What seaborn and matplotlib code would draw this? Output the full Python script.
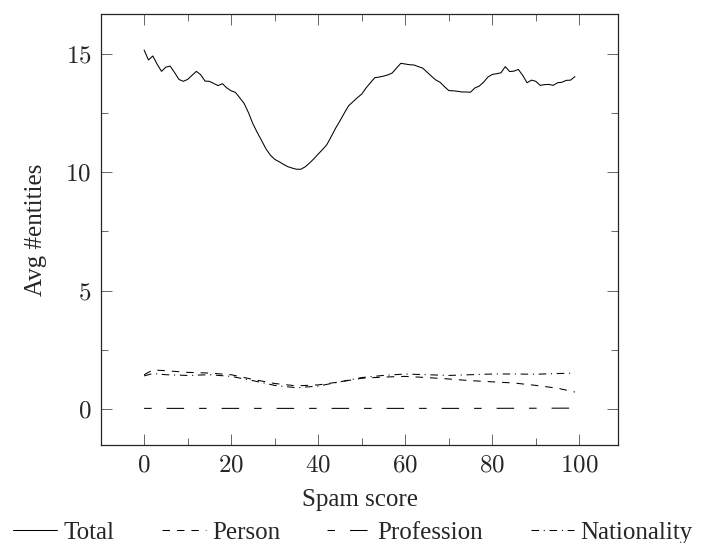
import numpy as np
import pandas as pd
import seaborn as sns
import matplotlib.pyplot as plt
from matplotlib.ticker import MultipleLocator, FuncFormatter

# values
spam_score = list(range(100))
total = [15.15, 14.73, 14.90, 14.55, 14.25, 14.43, 14.47, 14.20, 13.91, 13.83,
         13.91, 14.08, 14.25, 14.11, 13.84, 13.83, 13.74, 13.65, 13.73, 13.55,
         13.43, 13.36, 13.13, 12.89, 12.50, 12.04, 11.67, 11.33, 10.98, 10.72,
         10.54, 10.44, 10.33, 10.23, 10.17, 10.12, 10.12, 10.22, 10.38, 10.56,
         10.76, 10.95, 11.16, 11.50, 11.85, 12.16, 12.49, 12.80, 12.97, 13.14,
         13.29, 13.55, 13.77, 13.98, 14.01, 14.05, 14.10, 14.18, 14.39, 14.59,
         14.56, 14.53, 14.52, 14.45, 14.39, 14.22, 14.05, 13.89, 13.79, 13.61,
         13.44, 13.43, 13.41, 13.38, 13.38, 13.37, 13.55, 13.63, 13.79, 14.01,
         14.12, 14.15, 14.19, 14.45, 14.24, 14.26, 14.33, 14.08, 13.77, 13.88,
         13.83, 13.66, 13.69, 13.70, 13.66, 13.77, 13.79, 13.87, 13.88, 14.03]

coarse_score = [0, 2, 5, 10, 15, 20, 25, 30, 35, 40, 45, 50, 55, 60, 65, 70, 75,
                80, 85, 90, 95, 99]
person = [1.45, 1.65, 1.62, 1.55, 1.52, 1.45, 1.25, 1.08, 0.98, 1.02, 1.15,
          1.30, 1.35, 1.38, 1.33, 1.27, 1.20, 1.15, 1.10, 1.00, 0.88, 0.72]
nationality = [1.40, 1.50, 1.45, 1.42, 1.45, 1.38, 1.20, 1.00, 0.90, 0.97, 1.15,
               1.33, 1.42, 1.48, 1.45, 1.42, 1.45, 1.48, 1.48, 1.47, 1.50, 1.52]

prof_score = [0, 25, 50, 75, 99]
profession = [0.03, 0.03, 0.03, 0.03, 0.04]

series = [
    ("Total", spam_score, total, "-"),
    ("Person", coarse_score, person, (0, (5.4, 5.0))),
    ("Profession", prof_score, profession, (0, (5.4, 10.8, 12.6, 10.8))),
    ("Nationality", coarse_score, nationality, (0, (5.4, 3.4, 0.8, 3.4))),
]

sns.set_theme(style="ticks")
plt.rcParams["font.family"] = ["Liberation Serif", "DejaVu Serif"]
plt.rcParams["mathtext.fontset"] = "cm"
plt.rcParams["lines.scale_dashes"] = False

fig = plt.figure(figsize=(7.06, 5.43), dpi=100)
ax = fig.add_axes([0.1431, 0.1805, 0.7323, 0.7937])

for name, xs, ys, ls in series:
    df = pd.DataFrame({"x": xs, "y": ys})
    sns.lineplot(data=df, x="x", y="y", ax=ax, color="black", linewidth=0.75,
                 linestyle=ls, label=name, errorbar=None)

ax.set_xlim(-9.9, 108.9)
ax.set_ylim(-1.515, 16.67)
ax.xaxis.set_major_locator(MultipleLocator(20))
ax.xaxis.set_minor_locator(MultipleLocator(10))
ax.yaxis.set_major_locator(MultipleLocator(5))
ax.yaxis.set_minor_locator(MultipleLocator(2.5))
fmt = FuncFormatter(lambda v, p: f"${v:g}$")
ax.xaxis.set_major_formatter(fmt)
ax.yaxis.set_major_formatter(fmt)

ax.tick_params(which="both", direction="in", top=True, right=True,
               color="0.4", width=0.7, labelsize=18)
ax.tick_params(which="major", length=7.7, pad=7)
ax.tick_params(which="minor", length=5.2)
for s in ax.spines.values():
    s.set_color("0.15")
    s.set_linewidth(0.9)

ax.set_xlabel("Spam score", fontsize=18, labelpad=8.5)
ax.set_ylabel("Avg #entities", fontsize=18, labelpad=13)

handles, labels = ax.get_legend_handles_labels()
ax.get_legend().remove()
fig.legend(handles, labels, loc="lower center", bbox_to_anchor=(0.5, -0.034),
           ncol=4, frameon=False, fontsize=18, handlelength=1.75,
           handletextpad=0.25, columnspacing=1.9, borderpad=0.2)

plt.savefig("out.png", dpi=100)
